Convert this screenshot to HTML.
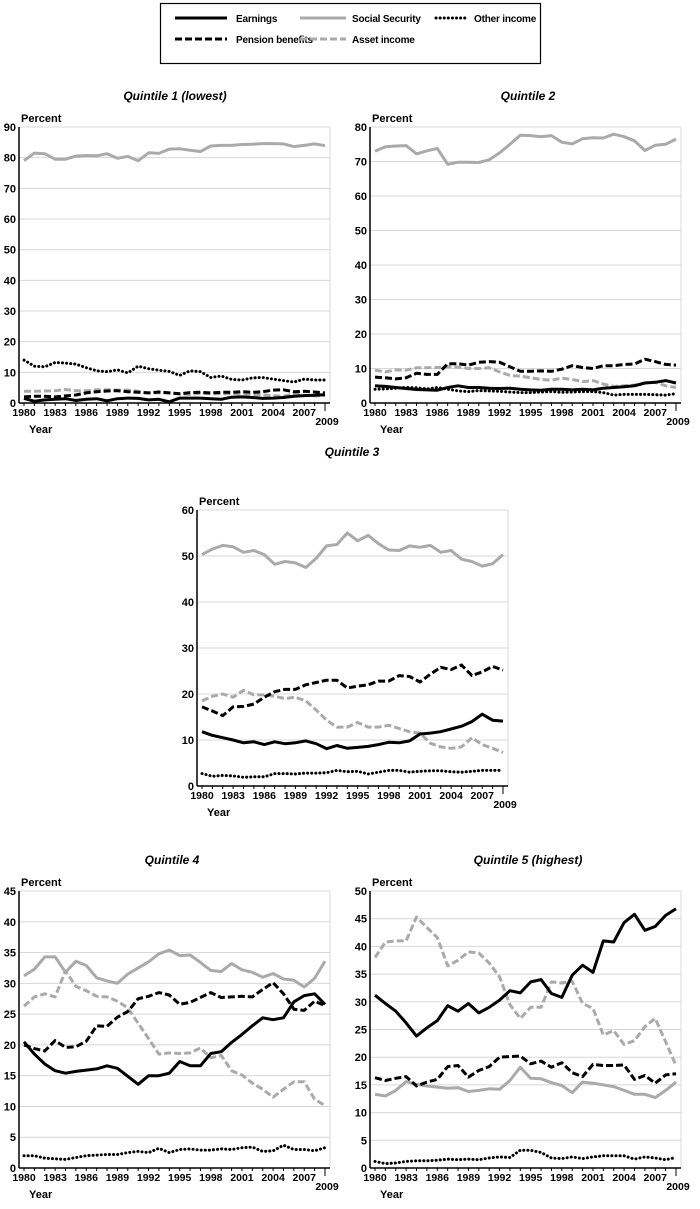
<!DOCTYPE html>
<html><head><meta charset="utf-8"><style>
body{margin:0;background:#fff;}
svg text{font-family:"Liberation Sans",Arial,sans-serif;}
</style></head><body>
<svg id="s" width="700" height="1204" xmlns="http://www.w3.org/2000/svg"></svg>
<script>
const S=document.getElementById('s');let h='';
h+='<rect x="160.5" y="3.5" width="380" height="60" fill="none" stroke="#000" stroke-width="1.2"/>';
const DA='stroke-dasharray="7,3"',DO='stroke-dasharray="0.1,4" stroke-linecap="round"';
function leg(x1,x2,tx,y,st,col,t){h+=`<line x1="${x1}" y1="${y}" x2="${x2}" y2="${y}" stroke="${col}" stroke-width="3" ${st}/><text x="${tx}" y="${y+4}" font-size="10" font-weight="bold" letter-spacing="-0.2">${t}</text>`;}
leg(175,227,236,18,'','#000','Earnings');leg(300,346,352,18,'','#aaa','Social Security');leg(436,468,474,18,DO,'#000','Other income');
leg(175,227,236,39,DA,'#000','Pension benefits');leg(300,346,352,39,DA,'#aaa','Asset income');
function chart(ax,yt,yb,max,step,title,tx,ty,D){
 const sc=v=>yb-(v/max)*(yb-yt), xs=i=>ax+5+i*301/29;
 h+=`<text x="${tx}" y="${ty}" font-size="12" font-weight="bold" font-style="italic" text-anchor="middle">${title}</text>`;
 h+=`<text x="${ax+2}" y="${yt-5}" font-size="11" font-weight="bold">Percent</text>`;
 for(let v=step;v<=max;v+=step){h+=`<line x1="${ax}" y1="${sc(v)}" x2="${ax+311}" y2="${sc(v)}" stroke="#d8d8d8"/>`;}
 h+=`<line x1="${ax+311}" y1="${yt}" x2="${ax+311}" y2="${yb}" stroke="#d8d8d8"/>`;
 for(let v=0;v<=max;v+=step){h+=`<text x="${ax-3}" y="${sc(v)+4}" font-size="11" font-weight="bold" text-anchor="end">${v}</text>`;}
 const ser=[['ss','#aaa',''],['as','#aaa',DA],['pe','#000',DA],['ot','#000',DO],['ea','#000','']];
 ser.forEach(([k,c,st])=>{h+=`<polyline fill="none" stroke="${c}" stroke-width="3" stroke-linejoin="round" ${st} points="${D[k].map((v,i)=>xs(i).toFixed(1)+','+sc(v).toFixed(1)).join(' ')}"/>`;});
 h+=`<line x1="${ax}" y1="${yt}" x2="${ax}" y2="${yb}" stroke="#000" stroke-width="1.5"/><line x1="${ax}" y1="${yb}" x2="${ax+311}" y2="${yb}" stroke="#000" stroke-width="1.5"/>`;
 for(let i=0;i<30;i++){h+=`<line x1="${xs(i)}" y1="${yb}" x2="${xs(i)}" y2="${yb+(i==29?8:3)}" stroke="#000"/>`;}
 for(let i=0;i<=27;i+=3){h+=`<text x="${xs(i)}" y="${yb+13}" font-size="10.5" font-weight="bold" text-anchor="middle">${1980+i}</text>`;}
 h+=`<text x="${xs(29)+2}" y="${yb+22}" font-size="10.5" font-weight="bold" text-anchor="middle">2009</text>`;
 h+=`<text x="${ax+10}" y="${yb+30}" font-size="11" font-weight="bold">Year</text>`;
}
chart(19,127,403,90,10,'Quintile 1 (lowest)',175,100,{
ss:[79,81.5,81.3,79.5,79.5,80.5,80.7,80.6,81.3,79.8,80.4,79,81.6,81.4,82.8,82.9,82.4,82,83.8,84,84,84.3,84.4,84.6,84.6,84.5,83.6,84,84.5,83.9],
ot:[14,12,11.8,13.2,13,12.7,11.5,10.5,10.2,10.8,9.8,12,11.2,10.7,10.3,9,10.5,10.2,8.3,8.8,7.7,7.5,8.2,8.3,7.8,7.3,6.8,7.8,7.5,7.5],
pe:[2,2.2,2.2,2,2.3,2.6,3.3,3.7,3.9,4,3.7,3.5,3.3,3.6,3.3,3,3.4,3.5,3.3,3.5,3.5,3.7,3.5,3.7,4.2,4.3,3.7,3.8,3.6,3.3],
as:[3.8,3.8,3.9,4,4.4,4,4,4.3,4.3,4.2,4.2,3.8,3.3,3.3,3.3,3,2.8,3.2,3,3,3,3,2.8,2.6,2.4,2.2,3,2.5,2.3,2.5],
ea:[1.5,0.6,1,1.2,1.4,0.8,1.2,1.4,0.7,1.4,1.6,1.5,1,1.2,0.4,1.6,1.6,1.6,1.4,1.2,1.9,2,1.8,1.5,1.6,1.8,2.2,2.4,2.5,2.7]});
chart(370,127,403,80,10,'Quintile 2',528,100,{
ss:[73,74.3,74.5,74.6,72.2,73.1,73.8,69.2,69.8,69.8,69.7,70.5,72.5,75,77.6,77.5,77.2,77.5,75.6,75.1,76.6,76.9,76.8,77.9,77.2,76,73.2,74.7,75,76.5],
pe:[7.5,7.3,7,7.3,8.6,8.3,8.3,11.4,11.4,11,11.8,12,11.8,10.5,9.2,9.2,9.3,9.2,9.8,10.8,10.3,10,10.8,10.8,11.2,11.3,12.7,12,11.2,11],
as:[9.5,9,9.6,9.5,10.2,10.2,10.3,10.5,10.4,10,10,10.2,9,8,7.8,7.3,6.8,6.6,7.2,6.8,6.2,6.5,5.5,4.8,5,5.2,5.8,6,5,4.5],
ea:[5,4.8,4.5,4.2,3.9,3.8,3.7,4.5,5,4.5,4.5,4.3,4.2,4.3,4,3.8,3.7,4,4,3.8,4,3.8,4.3,4.5,4.7,5,5.8,6,6.5,5.8],
ot:[4,4.1,4.3,4.5,4.4,4.1,4.5,4,3.5,3.3,3.6,3.5,3.4,3.2,3,3,3.2,3.3,3.1,3.2,3.3,3.3,3,2.3,2.5,2.5,2.5,2.4,2.3,2.7]});
chart(197,510,786,60,10,'Quintile 3',352,456,{
ss:[50.3,51.5,52.3,52,50.8,51.2,50.3,48.2,48.8,48.5,47.5,49.5,52.2,52.5,55,53.3,54.5,52.7,51.3,51.2,52.2,51.9,52.3,50.8,51.2,49.3,48.8,47.8,48.3,50.3],
pe:[17.2,16.3,15.3,17.2,17.3,17.8,19.3,20.5,21,21,22,22.5,23,23,21.3,21.7,22,22.8,22.8,24,23.8,22.6,24.3,25.8,25.3,26.3,24,24.8,26,25.2],
as:[18.5,19.5,20,19.3,20.8,19.8,19.8,19.5,19,19.3,18.5,16.5,14.3,12.8,12.8,13.8,12.8,12.8,13.2,12.5,11.8,11.5,9.3,8.5,8.2,8.5,10.5,9,8.2,7.3],
ea:[11.8,11,10.5,10,9.4,9.6,9,9.6,9.2,9.4,9.8,9.2,8.1,8.8,8.2,8.4,8.6,9,9.5,9.4,9.8,11.3,11.5,11.8,12.4,13,14,15.6,14.3,14.1],
ot:[2.7,2.1,2.3,2.2,1.9,2,2,2.7,2.7,2.6,2.8,2.8,2.9,3.4,3.1,3.2,2.6,3,3.4,3.4,3,3.2,3.3,3.3,3.1,3,3.2,3.4,3.4,3.4]});
chart(19,891,1168,45,5,'Quintile 4',172,864,{
ss:[31.2,32.3,34.3,34.3,31.8,33.6,32.9,30.9,30.4,30,31.5,32.5,33.5,34.8,35.4,34.5,34.6,33.4,32.1,31.9,33.2,32.2,31.8,31,31.6,30.7,30.5,29.4,30.8,33.6],
as:[26.3,27.8,28.3,27.8,32,29.5,28.8,27.9,27.8,27.1,26,23.5,21,18.5,18.7,18.6,18.7,19.5,17.9,18.3,15.8,15.1,13.8,12.8,11.5,12.8,14,14,11.2,10.1],
pe:[20,19.4,19,20.7,19.6,19.7,20.6,23.1,23,24.5,25.4,27.5,27.9,28.5,28.1,26.6,26.9,27.7,28.5,27.7,27.8,27.9,27.8,29,30.1,28.3,25.8,25.6,27.1,26.4],
ea:[20.5,18.5,16.9,15.8,15.4,15.7,15.9,16.1,16.6,16.2,14.9,13.6,15,15,15.4,17.3,16.6,16.6,18.6,18.9,20.4,21.7,23.1,24.4,24.1,24.4,27,28,28.3,26.6],
ot:[2,2,1.6,1.5,1.4,1.7,2,2.1,2.2,2.2,2.5,2.7,2.5,3.2,2.5,3,3.1,2.9,2.9,3.1,3,3.3,3.4,2.7,2.8,3.7,3,3,2.8,3.3]});
chart(370,891,1168,50,5,'Quintile 5 (highest)',528,864,{
ea:[31.2,29.7,28.3,26.2,23.8,25.3,26.6,29.3,28.3,29.7,28,29,30.3,32,31.6,33.6,34,31.5,30.8,34.8,36.6,35.3,41,40.8,44.3,45.8,42.9,43.6,45.6,46.8],
as:[38,40.8,41,41,45.3,43.4,41.6,36.5,37.5,39,38.8,37,34.5,29.5,27,29,29,33.6,33.4,33.7,29.7,28.8,24,24.8,22.3,23,25.5,27,22.8,18.5],
pe:[16.3,15.8,16.2,16.5,14.8,15.5,16,18.3,18.5,16.4,17.6,18.3,20,20.1,20.2,18.8,19.3,18.2,19,17.2,16.5,18.7,18.5,18.5,18.6,16,16.7,15.3,16.8,17],
ss:[13.3,13,14,15.6,15.1,14.8,14.6,14.4,14.5,13.8,14,14.3,14.2,15.8,18.2,16.2,16.1,15.4,14.9,13.6,15.5,15.3,15,14.7,14,13.3,13.3,12.7,14,15.5],
ot:[1.2,0.8,0.9,1.2,1.3,1.3,1.4,1.6,1.5,1.6,1.5,1.8,2,1.9,3.2,3.2,2.8,1.8,1.7,2,1.7,2,2.2,2.2,2.2,1.6,2,1.8,1.5,1.9]});
S.innerHTML=h;
</script>
</body></html>
